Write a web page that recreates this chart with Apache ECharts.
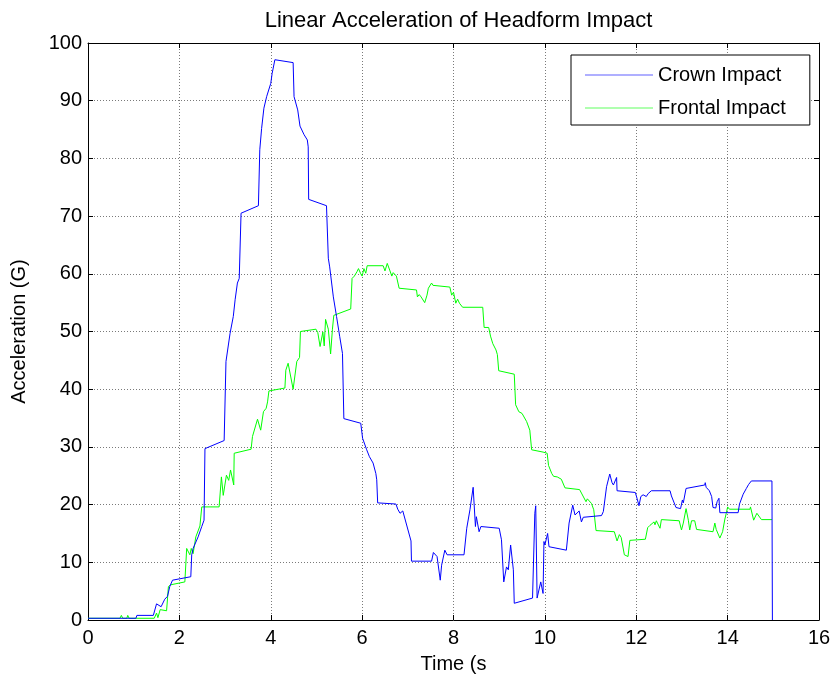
<!DOCTYPE html>
<html>
<head>
<meta charset="utf-8">
<script src="https://cdn.jsdelivr.net/npm/echarts@6/dist/echarts.min.js"></script>
<style>
html,body{margin:0;padding:0;background:#fff;}
#chart{width:835px;height:684px;}
</style>
</head>
<body>
<div id="chart"></div>
<script>
var titleText = 'Linear Acceleration of Headform Impact';
var xName = 'Time (s';
var yName = 'Acceleration (G)';
var seriesNames = ['Crown Impact', 'Frontal Impact'];
var xTicks = {min: 0, max: 16, interval: 2};
var yTicks = {min: 0, max: 100, interval: 10};

var crown = [
[0,0.3],[1.05,0.3],[1.07,0.8],[1.43,0.8],[1.50,2.8],[1.60,2.3],[1.68,3.6],[1.74,4.1],[1.79,5.8],[1.85,6.9],
[2.25,7.5],[2.27,11.3],[2.30,12.4],[2.41,14.4],[2.49,16.2],[2.54,17.3],[2.56,29.7],[2.98,31.1],[3.02,44.8],
[3.11,49.7],[3.18,52.6],[3.22,55.5],[3.27,58.4],[3.31,59.2],[3.35,70.5],[3.73,71.8],[3.76,81.5],[3.80,85.2],
[3.85,88.7],[3.91,90.7],[4.00,93.0],[4.03,94.7],[4.09,97.1],[4.49,96.6],[4.51,90.7],[4.59,88.4],[4.64,85.6],
[4.73,84.1],[4.80,83.2],[4.82,82.0],[4.83,72.9],[5.22,71.8],[5.26,62.7],[5.29,61.2],[5.37,56.0],[5.44,52.6],
[5.51,49.1],[5.57,46.2],[5.60,34.9],[5.97,34.1],[6.01,31.5],[6.10,29.5],[6.16,28.3],[6.24,27.2],[6.30,25.4],
[6.32,24.3],[6.34,20.3],[6.74,20.1],[6.78,19.2],[6.83,18.5],[6.89,18.9],[6.91,18.6],[7.07,13.7],[7.08,10.2],
[7.52,10.2],[7.56,11.7],[7.60,11.8],[7.64,11.0],[7.71,6.9],[7.74,9.5],[7.81,12.1],[7.86,11.3],[8.23,11.3],
[8.29,15.9],[8.36,19.1],[8.43,23.0],[8.48,16.2],[8.50,17.9],[8.56,15.3],[8.60,16.2],[9.00,15.9],[9.05,13.9],
[9.10,6.6],[9.16,9.2],[9.20,8.7],[9.25,13.0],[9.31,8.7],[9.33,2.9],[9.73,3.8],[9.78,18.5],[9.80,19.8],
[9.83,3.8],[9.91,6.6],[9.96,4.6],[9.98,13.6],[10.00,13.0],[10.06,15.0],[10.09,12.7],[10.47,12.1],[10.53,16.8],
[10.61,19.9],[10.66,18.2],[10.68,18.0],[10.75,18.9],[10.80,17.0],[10.84,17.8],[11.24,18.1],[11.28,18.8],
[11.35,23.1],[11.42,25.3],[11.47,23.8],[11.50,23.4],[11.57,24.7],[11.58,22.4],[11.98,22.1],[12.02,21.0],
[12.06,19.8],[12.10,21.4],[12.15,21.7],[12.18,21.9],[12.22,21.4],[12.26,21.9],[12.33,22.4],[12.74,22.4],
[12.77,21.5],[12.81,21.8],[12.87,19.5],[12.97,19.3],[13.01,20.8],[13.03,20.3],[13.09,22.8],[13.11,23.1],
[13.50,23.4],[13.51,23.8],[13.53,23.0],[13.60,22.4],[13.65,21.4],[13.68,19.5],[13.74,19.4],[13.77,20.5],
[13.81,21.1],[13.83,18.6],[14.23,18.6],[14.26,20.1],[14.29,20.1],[14.34,21.8],[14.41,22.8],[14.46,23.5],
[14.52,24.1],[14.97,24.1],[14.98,0]
];

var frontal = [
[0,0.3],[0.70,0.3],[0.73,0.8],[0.76,0.3],[0.85,0.3],[0.87,0.8],[0.90,0.3],[1.45,0.3],[1.50,1.2],[1.53,0.4],
[1.58,1.8],[1.72,1.6],[1.76,5.8],[1.81,6.1],[2.12,6.6],[2.16,12.4],[2.23,11.3],[2.26,12.4],[2.30,11.5],
[2.36,14.4],[2.40,14.1],[2.45,16.3],[2.49,19.6],[2.53,19.4],[2.87,19.6],[2.92,24.8],[2.96,21.6],[3.03,25.1],
[3.08,24.2],[3.12,26.0],[3.19,23.4],[3.20,28.9],[3.57,29.6],[3.60,31.8],[3.64,32.0],[3.71,34.8],[3.78,32.9],
[3.84,36.1],[3.90,36.7],[3.93,37.8],[3.96,39.7],[4.31,40.2],[4.33,43.3],[4.38,44.5],[4.49,40.0],[4.57,44.8],
[4.63,45.5],[4.65,50.0],[4.99,50.4],[5.03,49.8],[5.08,47.4],[5.14,49.9],[5.17,47.5],[5.20,52.1],[5.26,50.4],
[5.29,50.2],[5.31,46.1],[5.35,50.4],[5.38,52.8],[5.75,53.9],[5.78,59.2],[5.83,59.6],[5.89,60.4],[5.92,60.9],
[5.97,60.0],[6.00,59.6],[6.04,60.9],[6.08,60.1],[6.11,61.4],[6.46,61.4],[6.50,60.5],[6.55,61.8],[6.57,62.0],
[6.61,60.5],[6.65,59.6],[6.68,60.2],[6.75,59.6],[6.81,57.5],[7.19,57.2],[7.21,56.0],[7.25,56.4],[7.29,56.0],
[7.37,55.0],[7.42,56.3],[7.45,57.5],[7.52,58.4],[7.55,58.0],[7.92,57.7],[7.96,56.3],[8.00,56.8],[8.05,54.9],
[8.09,55.6],[8.13,54.9],[8.20,54.2],[8.64,54.2],[8.67,50.7],[8.77,50.7],[8.81,49.2],[8.86,47.9],[8.93,46.8],
[8.96,46.0],[8.99,43.2],[9.33,42.6],[9.36,37.3],[9.43,36.1],[9.47,36.4],[9.50,35.8],[9.60,34.4],[9.67,32.9],
[9.71,29.5],[9.96,29.1],[10.05,28.9],[10.08,26.8],[10.15,25.4],[10.19,24.9],[10.23,25.1],[10.27,24.8],
[10.36,24.4],[10.44,22.9],[10.76,22.6],[10.80,22.0],[10.90,20.5],[10.93,21.0],[10.97,20.8],[11.02,20.2],
[11.07,19.1],[11.12,15.5],[11.52,15.3],[11.58,13.7],[11.63,14.8],[11.67,14.3],[11.74,11.3],[11.78,11.0],
[11.82,11.0],[11.86,13.8],[12.20,14.0],[12.25,16.0],[12.30,16.4],[12.39,17.0],[12.41,16.5],[12.44,17.2],
[12.52,15.9],[12.55,17.4],[12.94,17.2],[12.99,15.6],[13.03,16.8],[13.09,19.3],[13.14,17.3],[13.17,15.6],
[13.21,17.2],[13.28,17.2],[13.32,15.7],[13.68,15.3],[13.72,16.8],[13.75,15.7],[13.79,16.0],[13.83,14.2],
[13.89,15.3],[13.94,17.5],[13.97,18.5],[14.00,19.6],[14.04,19.2],[14.49,19.2],[14.50,19.6],[14.57,17.3],
[14.64,18.5],[14.74,17.4],[14.97,17.4]
];

var FONT = '"Liberation Sans", Arial, Helvetica, sans-serif';
var LINE_ICON = 'path://M0,0L68,0L68,1L0,1Z';
var chart = echarts.init(document.getElementById('chart'), null, {renderer: 'canvas'});

function axisBase(extra) {
  var base = {
    type: 'value',
    axisLine: {show: true, onZero: false, lineStyle: {color: '#000', width: 1}},
    axisTick: {show: true, inside: true, length: 5, lineStyle: {color: '#000', width: 1}},
    splitLine: {show: false},
    axisLabel: {show: false}
  };
  for (var k in extra) base[k] = extra[k];
  return base;
}

var option = {
  backgroundColor: '#fff',
  animation: false,
  title: {
    text: titleText,
    left: 453.5,
    textAlign: 'center',
    top: 5,
    textStyle: {fontFamily: FONT, fontSize: 22, fontWeight: 'normal', color: '#000'}
  },
  legend: {
    orient: 'vertical',
    left: 571,
    top: 55,
    data: [
      {name: seriesNames[0], icon: LINE_ICON, itemStyle: {color: '#6060ff'}},
      {name: seriesNames[1], icon: LINE_ICON, itemStyle: {color: '#60ff60'}}
    ],
    itemWidth: 68,
    itemHeight: 20,
    itemGap: 13,
    padding: [10, 24, 7, 14],
    backgroundColor: '#fff',
    borderColor: '#000',
    borderWidth: 1,
    borderRadius: 0,
    textStyle: {fontFamily: FONT, fontSize: 20, color: '#000', lineHeight: 20}
  },
  grid: {left: 88, right: 16, top: 43, bottom: 64, containLabel: false},
  xAxis: [
    axisBase({
      min: xTicks.min, max: xTicks.max, interval: xTicks.interval,
      position: 'bottom',
      name: xName, nameLocation: 'middle', nameGap: 34,
      nameTextStyle: {fontFamily: FONT, fontSize: 20, color: '#000'},
      axisLabel: {show: true, fontFamily: FONT, fontSize: 20, color: '#000', margin: 8},
      splitLine: {show: true, lineStyle: {color: '#7a7a7a', type: [1, 2], width: 1}}
    }),
    axisBase({min: xTicks.min, max: xTicks.max, interval: xTicks.interval, position: 'top'})
  ],
  yAxis: [
    axisBase({
      min: yTicks.min, max: yTicks.max, interval: yTicks.interval,
      position: 'left',
      name: yName, nameLocation: 'middle', nameGap: 59, nameRotate: 90,
      nameTextStyle: {fontFamily: FONT, fontSize: 20, color: '#000'},
      axisLabel: {show: true, fontFamily: FONT, fontSize: 20, color: '#000', margin: 6},
      splitLine: {show: true, lineStyle: {color: '#7a7a7a', type: [1, 2], width: 1}}
    }),
    axisBase({min: yTicks.min, max: yTicks.max, interval: yTicks.interval, position: 'right'})
  ],
  series: [
    {
      name: seriesNames[0], type: 'line', data: crown,
      xAxisIndex: 0, yAxisIndex: 0,
      showSymbol: false, symbol: 'none',
      lineStyle: {color: '#0000ff', width: 1},
      itemStyle: {color: '#0000ff'},
      z: 3
    },
    {
      name: seriesNames[1], type: 'line', data: frontal,
      xAxisIndex: 0, yAxisIndex: 0,
      showSymbol: false, symbol: 'none',
      lineStyle: {color: '#00ff00', width: 1},
      itemStyle: {color: '#00ff00'},
      z: 2
    }
  ]
};
chart.setOption(option);
</script>
</body>
</html>
